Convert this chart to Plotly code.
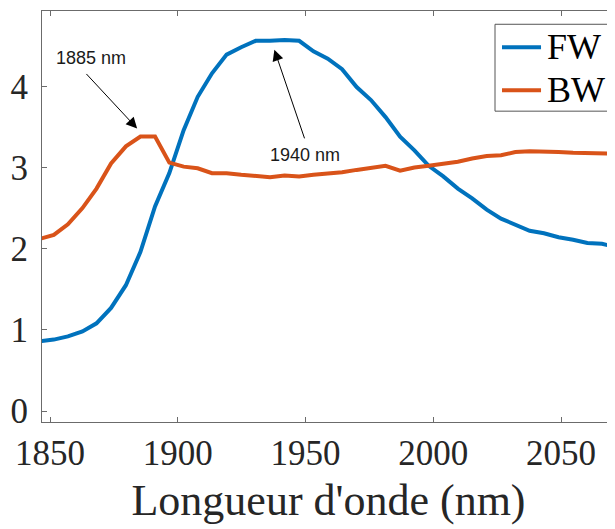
import plotly.graph_objects as go

# Wavelength (nm)
wavelength = [1846.0, 1851.5, 1857.0, 1862.7, 1868.2, 1873.9, 1879.7, 1885.4, 1891.1, 1896.7,
              1902.3, 1907.8, 1913.4, 1919.1, 1924.8, 1930.5, 1936.1, 1941.8, 1947.5, 1953.1,
              1958.7, 1964.3, 1970.0, 1975.6, 1981.3, 1987.0, 1992.6, 1998.2, 2003.9, 2009.6,
              2015.2, 2020.9, 2026.5, 2032.1, 2037.7, 2043.3, 2049.0, 2054.7, 2060.3, 2066.0,
              2071.5]

fw = [0.86, 0.88, 0.92, 0.98, 1.08, 1.27, 1.55, 1.96, 2.52, 2.93,
      3.46, 3.87, 4.16, 4.39, 4.48, 4.56, 4.56, 4.57, 4.56, 4.43,
      4.34, 4.21, 3.99, 3.83, 3.62, 3.38, 3.21, 3.02, 2.89, 2.74,
      2.62, 2.48, 2.37, 2.29, 2.22, 2.19, 2.14, 2.11, 2.07, 2.06,
      2.02]

bw = [2.12, 2.17, 2.30, 2.50, 2.74, 3.05, 3.26, 3.38, 3.38, 3.06,
      3.01, 2.99, 2.93, 2.93, 2.91, 2.90, 2.88, 2.90, 2.89, 2.91,
      2.92, 2.94, 2.97, 2.99, 3.02, 2.96, 3.00, 3.02, 3.04, 3.07,
      3.11, 3.14, 3.15, 3.19, 3.20, 3.20, 3.19, 3.18, 3.18, 3.17,
      3.17]

series_names = ["FW", "BW"]
series_colors = ["#0072BD", "#D95319"]

x_ticks = [1850, 1900, 1950, 2000, 2050]
y_ticks = [0, 1, 2, 3, 4]

# annotations: label, text position, arrow tail, arrow head
ann_labels = ["1885 nm", "1940 nm"]
ann_text_x = [1866.0, 1949.8]
ann_text_y = [4.35, 3.15]
ann_tail_x = [1863.7, 1949.8]
ann_tail_y = [4.17, 3.34]
ann_head_x = [1884.1, 1937.8]
ann_head_y = [3.48, 4.45]

serif = "Liberation Serif, Times New Roman, serif"
axis_col = "#6b6b6b"

fig = go.Figure()
for name, vals, col in zip(series_names, [fw, bw], series_colors):
    fig.add_trace(go.Scatter(x=wavelength, y=vals, mode="lines", name=name,
                             line=dict(color=col, width=4), showlegend=False))

for i in range(len(ann_labels)):
    fig.add_annotation(x=ann_head_x[i], y=ann_head_y[i], ax=ann_tail_x[i], ay=ann_tail_y[i],
                       axref="x", ayref="y", xref="x", yref="y", text="",
                       showarrow=True, arrowhead=2, arrowsize=2.2, arrowwidth=1,
                       arrowcolor="black", standoff=0, startstandoff=0)
    fig.add_annotation(x=ann_text_x[i], y=ann_text_y[i], xref="x", yref="y",
                       text=ann_labels[i], showarrow=False,
                       font=dict(family="Liberation Sans, Arial, sans-serif", size=18, color="#1a1a1a"))

# MATLAB-style legend box (paper coordinates)
leg_box = dict(x0=0.7906, x1=0.9878, y0=0.7563, y1=0.9677)
leg_line_x = (0.8028, 0.8709)
leg_text_x = 0.8778
leg_rows_y = [0.9118, 0.8073]

fig.add_shape(type="rect", xref="paper", yref="paper", **leg_box,
              line=dict(color="#555555", width=1), fillcolor="white", layer="above")
for name, col, ly in zip(series_names, series_colors, leg_rows_y):
    fig.add_shape(type="line", xref="paper", yref="paper", x0=leg_line_x[0], x1=leg_line_x[1],
                  y0=ly, y1=ly, line=dict(color=col, width=4), layer="above")
    fig.add_annotation(x=leg_text_x, y=ly, xref="paper", yref="paper", text=name,
                       showarrow=False, xanchor="left", yanchor="middle",
                       font=dict(family=serif, size=36, color="black"))

fig.update_layout(
    width=607, height=521,
    margin=dict(l=34, r=0, t=3, b=107),
    paper_bgcolor="white", plot_bgcolor="white",
    showlegend=False,
    xaxis=dict(range=[1846.87, 2071.1], tickvals=x_ticks, ticktext=[str(v) for v in x_ticks],
               showgrid=False, zeroline=False, showline=True, linecolor=axis_col, linewidth=1,
               mirror="ticks", ticks="inside", ticklen=5, tickcolor=axis_col,
               tickfont=dict(family=serif, size=35, color="#262626"),
               title=dict(text="Longueur d'onde (nm)", font=dict(family=serif, size=44, color="#262626"),
                          standoff=12)),
    yaxis=dict(range=[-0.135, 4.927], tickvals=y_ticks, ticktext=[str(v) for v in y_ticks],
               showgrid=False, zeroline=False, showline=True, linecolor=axis_col, linewidth=1,
               mirror=False, ticks="inside", ticklen=5, tickcolor=axis_col,
               tickfont=dict(family=serif, size=35, color="#262626"), ticklabelstandoff=6),
)

fig.write_html("out.html")
